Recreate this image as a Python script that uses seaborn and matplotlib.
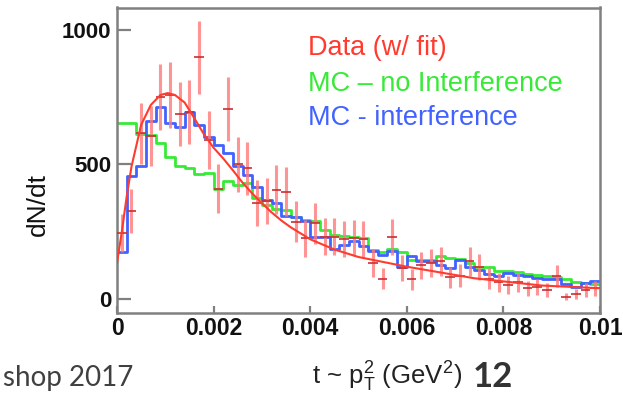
import numpy as np
import pandas as pd
import matplotlib
matplotlib.use("Agg")
import matplotlib.pyplot as plt
import seaborn as sns

# ---------------- data ----------------
t_min, t_max, n_bins = 0.0, 0.01, 50

data_vals = [246, 327, 615, 605, 750, 758, 688, 694, 898, 591,
             409, 706, 500, 486, 356, 364, 405, 399, 287, 225,
             281, 232, 232, 222, 225, 222, 133, 75, 230, 114,
             74, 125, 133, 140, 80, 87, 140, 120, 75, 62,
             53, 62, 40, 45, 33, 85, 8, 18, 33, 40]
data_err = [70, 81, 112, 111, 123, 124, 118, 119, 135, 109,
            91, 120, 101, 99, 85, 86, 91, 90, 76, 68,
            75, 69, 69, 67, 67, 67, 52, 39, 68, 48,
            39, 50, 52, 53, 40, 42, 53, 49, 39, 35,
            33, 35, 28, 30, 26, 41, 13, 19, 26, 28]
mc_interference = [176, 457, 494, 663, 715, 653, 640, 693, 647, 603,
                   572, 541, 495, 460, 417, 368, 358, 310, 306, 290,
                   232, 232, 187, 200, 215, 198, 178, 165, 180, 120,
                   160, 140, 140, 125, 115, 145, 120, 108, 92, 85,
                   95, 89, 86, 78, 76, 76, 55, 46, 60, 68]
mc_no_interference = [655, 655, 612, 608, 579, 529, 494, 486, 465, 469,
                      408, 440, 424, 432, 374, 349, 333, 331, 306, 292,
                      289, 256, 238, 234, 229, 226, 182, 176, 185, 176,
                      145, 145, 145, 160, 151, 149, 133, 120, 118, 105,
                      105, 100, 92, 90, 85, 82, 75, 65, 60, 55]
fit_t = [0.0, 0.0001, 0.0002, 0.0003, 0.0005, 0.0007, 0.0009, 0.00105,
         0.0012, 0.0014, 0.0016, 0.0018, 0.002, 0.0022, 0.0024, 0.0026,
         0.0028, 0.003, 0.0032, 0.0034, 0.0036, 0.004, 0.0045, 0.005,
         0.006, 0.0074, 0.0088, 0.01]
fit_y = [134, 250, 380, 492, 647, 721, 758, 765,
         758, 730, 672, 612, 562, 522, 478, 432,
         392, 356, 322, 292, 266, 222, 184, 156,
         120, 77, 50, 40]

x_ticks = [0, 0.002, 0.004, 0.006, 0.008, 0.01]
x_tick_labels = ["0", "0.002", "0.004", "0.006", "0.008", "0.01"]
y_ticks = [0, 500, 1000]
y_tick_labels = ["0", "500", "1000"]
legend_labels = ["Data (w/ fit)", "MC \u2013 no Interference", "MC - interference"]

# ---------------- style ----------------
RED = "#ff3b2f"
RED_ERR = "#ff7a7a"
RED_H = "#c83030"
GREEN = "#36ea36"
BLUE = "#4262ff"
GRAY = "#808080"

sns.set_theme(style="white")
plt.rcParams["font.family"] = ["Liberation Sans", "DejaVu Sans"]
plt.rcParams["mathtext.fontset"] = "custom"
plt.rcParams["mathtext.rm"] = "Liberation Sans"
plt.rcParams["mathtext.it"] = "Liberation Sans:italic"

W, H = 623, 393
fig = plt.figure(figsize=(W / 100, H / 100), dpi=100)
fig.patch.set_facecolor("white")
ax = fig.add_axes([117 / W, 1 - 313 / H, 483 / W, 305.5 / H])

edges = list(np.linspace(t_min, t_max, n_bins + 1))
centers = [0.5 * (a + b) for a, b in zip(edges[:-1], edges[1:])]
bin_w = edges[1] - edges[0]

df = pd.DataFrame({
    "t": centers,
    "data": data_vals,
    "err": data_err,
    "mc_int": mc_interference,
    "mc_noint": mc_no_interference,
})

sns.histplot(data=df, x="t", weights="mc_noint", bins=edges, element="step",
             fill=False, color=GREEN, linewidth=2.0, ax=ax)
sns.histplot(data=df, x="t", weights="mc_int", bins=edges, element="step",
             fill=False, color=BLUE, linewidth=2.0, ax=ax)

ax.errorbar(df["t"], df["data"], yerr=df["err"], fmt="none",
            ecolor=RED_ERR, elinewidth=2.2, alpha=0.8, zorder=4)
ax.errorbar(df["t"], df["data"], xerr=bin_w / 2, fmt="none",
            ecolor=RED_H, elinewidth=1.2, zorder=5)

fit_df = pd.DataFrame({"t": fit_t, "y": fit_y})
sns.lineplot(data=fit_df, x="t", y="y", color=RED, linewidth=1.5, ax=ax, zorder=6)

ax.set_xlim(t_min, t_max)
ax.set_ylim(-52, 1083)

ax.set_xticks(x_ticks)
ax.set_xticklabels(x_tick_labels, fontweight="bold", fontsize=16.5, color="#111111")
ax.set_yticks(y_ticks)
ax.set_yticklabels(y_tick_labels, fontweight="bold", fontsize=16, color="#111111")
ax.tick_params(axis="y", left=True, direction="in", length=10, width=1.6,
               color=GRAY, pad=4)
ax.tick_params(axis="x", bottom=True, direction="in", length=5, width=1.6,
               color=GRAY, pad=3)

for s in ax.spines.values():
    s.set_color(GRAY)
    s.set_linewidth(1.8)
    s.set_visible(True)

ax.set_ylabel("dN/dt", fontsize=19, color="#111111")
ax.yaxis.set_label_coords((50 - 117) / 483, (313 - 204) / 305.5)

ax.set_xlabel(r"t ~ p$_\mathrm{T}^\mathrm{2}$ (GeV$^\mathrm{2}$)", fontsize=18.5, color="#222222")
ax.xaxis.label.set_va("center")
ax.xaxis.set_label_coords((387 - 117) / 483, (313 - 377) / 305.5)

for lab, col, yy in zip(legend_labels, [RED, GREEN, BLUE], [48, 84, 118]):
    fig.text(308 / W, 1 - yy / H, lab, color=col, fontsize=19.5,
             ha="left", va="center")

fig.text(133 / W, 1 - 378 / H, "shop 2017", family="Lato", fontsize=20,
         color="#404040", ha="right", va="center")
fig.text(473 / W, 1 - 377 / H, "12", family="Lato", fontweight="bold",
         fontsize=25, color="#333333", ha="left", va="center")

fig.savefig("out.png", dpi=100, facecolor="white")
